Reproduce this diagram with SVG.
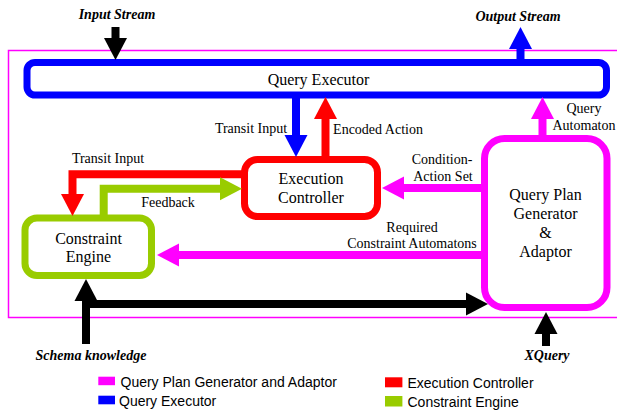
<svg xmlns="http://www.w3.org/2000/svg" width="617" height="410" viewBox="0 0 617 410">
  <style>
    .node rect { fill: #ffffff; }
    .lbl { font-family: "Liberation Serif", "Times New Roman", serif; font-size: 16px; fill: #000; text-anchor: middle; }
    .elbl { font-family: "Liberation Serif", "Times New Roman", serif; font-size: 14px; fill: #000; text-anchor: middle; }
    .io { font-family: "Liberation Serif", "Times New Roman", serif; font-size: 14px; font-weight: bold; font-style: italic; fill: #000; text-anchor: middle; }
    .leg { font-family: "Liberation Sans", Arial, sans-serif; font-size: 14px; fill: #000; }
    .conn { fill: none; stroke-width: 8; stroke-linejoin: miter; stroke-linecap: butt; }
    .k { stroke: #000000; }
    .b { stroke: #0000ff; }
    .r { stroke: #ff0000; }
    .m { stroke: #ff00ff; }
    .g { stroke: #99cc00; }
  </style>
  <defs>
    <marker id="hk" markerUnits="userSpaceOnUse" markerWidth="22" markerHeight="24" viewBox="0 -12 22 24" refX="1" refY="0" orient="auto"><path d="M0,-11.5 L22,0 L0,11.5 Z" fill="#000000"/></marker>
    <marker id="hb" markerUnits="userSpaceOnUse" markerWidth="22" markerHeight="24" viewBox="0 -12 22 24" refX="1" refY="0" orient="auto"><path d="M0,-11.5 L22,0 L0,11.5 Z" fill="#0000ff"/></marker>
    <marker id="hr" markerUnits="userSpaceOnUse" markerWidth="22" markerHeight="24" viewBox="0 -12 22 24" refX="1" refY="0" orient="auto"><path d="M0,-11.5 L22,0 L0,11.5 Z" fill="#ff0000"/></marker>
    <marker id="hm" markerUnits="userSpaceOnUse" markerWidth="22" markerHeight="24" viewBox="0 -12 22 24" refX="1" refY="0" orient="auto"><path d="M0,-11.5 L22,0 L0,11.5 Z" fill="#ff00ff"/></marker>
    <marker id="hg" markerUnits="userSpaceOnUse" markerWidth="22" markerHeight="24" viewBox="0 -12 22 24" refX="1" refY="0" orient="auto"><path d="M0,-11.5 L22,0 L0,11.5 Z" fill="#99cc00"/></marker>
  </defs>
  <rect width="617" height="410" fill="#ffffff"/>

  <!-- system boundary -->
  <rect id="boundary" x="8.5" y="50.5" width="620" height="267" fill="none" stroke="#ff00ff" stroke-width="1.5"/>

  <!-- external inputs / outputs -->
  <g id="io-labels">
    <text class="io" x="117" y="19">Input Stream</text>
    <text class="io" x="518" y="21">Output Stream</text>
    <text class="io" x="91" y="360">Schema knowledge</text>
    <text class="io" x="547" y="360">XQuery</text>
  </g>

  <g id="query-executor" class="node">
    <rect x="27" y="62.5" width="579.5" height="32.5" rx="8" stroke="#0000ff" stroke-width="7"/>
    <text class="lbl" x="318.5" y="84.5">Query Executor</text>
  </g>

  <g id="execution-controller" class="node">
    <rect x="244.5" y="159.5" width="133" height="57" rx="13" stroke="#ff0000" stroke-width="7"/>
    <text class="lbl" x="311" y="183.5">Execution</text>
    <text class="lbl" x="311" y="202.5">Controller</text>
  </g>

  <g id="constraint-engine" class="node">
    <rect x="25" y="218" width="126.5" height="57.5" rx="12" stroke="#99cc00" stroke-width="7"/>
    <text class="lbl" x="88.5" y="243.5">Constraint</text>
    <text class="lbl" x="88.5" y="262">Engine</text>
  </g>

  <g id="query-plan-generator" class="node">
    <rect x="484.5" y="138.5" width="122.5" height="169" rx="20" stroke="#ff00ff" stroke-width="7"/>
    <text class="lbl" x="545.5" y="200">Query Plan</text>
    <text class="lbl" x="545.5" y="218.5">Generator</text>
    <text class="lbl" x="545.5" y="237.5">&amp;</text>
    <text class="lbl" x="545.5" y="256.5">Adaptor</text>
  </g>

  <g id="connectors">
    <!-- input stream into the executor -->
    <polyline class="conn k" points="115.5,27 115.5,39" marker-end="url(#hk)"/>
    <!-- output stream out of the executor -->
    <polyline class="conn b" points="520.5,59 520.5,48" marker-end="url(#hb)"/>
    <!-- executor -> controller -->
    <polyline class="conn b" points="296,95 296,136" marker-end="url(#hb)"/>
    <!-- controller -> executor -->
    <polyline class="conn r" points="325.5,159 325.5,118" marker-end="url(#hr)"/>
    <!-- planner -> executor -->
    <polyline class="conn m" points="542.5,138 542.5,118" marker-end="url(#hm)"/>
    <!-- planner -> controller -->
    <polyline class="conn m" points="484,188 403,188" marker-end="url(#hm)"/>
    <!-- planner -> constraint engine -->
    <polyline class="conn m" points="484,255 178,255" marker-end="url(#hm)"/>
    <!-- controller -> constraint engine -->
    <polyline class="conn r" points="244,174.3 72.5,174.3 72.5,195" marker-end="url(#hr)"/>
    <!-- constraint engine feedback -> controller -->
    <polyline class="conn g" points="103.7,218 103.7,188.7 221,188.7" marker-end="url(#hg)"/>
    <!-- schema knowledge -> constraint engine and planner -->
    <polyline class="conn k" points="86,344 86,300" marker-end="url(#hk)"/>
    <polyline class="conn k" points="82,304 467,304" marker-end="url(#hk)"/>
    <!-- xquery -> planner -->
    <polyline class="conn k" points="546,346 546,333" marker-end="url(#hk)"/>
  </g>

  <g id="connector-labels">
    <text class="elbl" x="251" y="133">Transit Input</text>
    <text class="elbl" x="378" y="134">Encoded Action</text>
    <text class="elbl" x="584" y="113">Query</text>
    <text class="elbl" x="584" y="130">Automaton</text>
    <text class="elbl" x="442" y="164">Condition-</text>
    <text class="elbl" x="443" y="180.5">Action Set</text>
    <text class="elbl" x="412" y="232">Required</text>
    <text class="elbl" x="412" y="248">Constraint Automatons</text>
    <text class="elbl" x="108" y="163">Transit Input</text>
    <text class="elbl" x="168" y="207">Feedback</text>
  </g>

  <g id="legend">
    <rect x="98.3" y="376.7" width="16.7" height="8.5" fill="#ff00ff"/>
    <text class="leg" x="120.5" y="386.5">Query Plan Generator and Adaptor</text>
    <rect x="98.3" y="395.7" width="16.7" height="8.6" fill="#0000ff"/>
    <text class="leg" x="119" y="406">Query Executor</text>
    <rect x="385" y="377.3" width="17.4" height="10" fill="#ff0000"/>
    <text class="leg" x="407.5" y="388">Execution Controller</text>
    <rect x="385" y="396" width="17.4" height="10.5" fill="#99cc00"/>
    <text class="leg" x="407.5" y="406.5">Constraint Engine</text>
  </g>
</svg>
